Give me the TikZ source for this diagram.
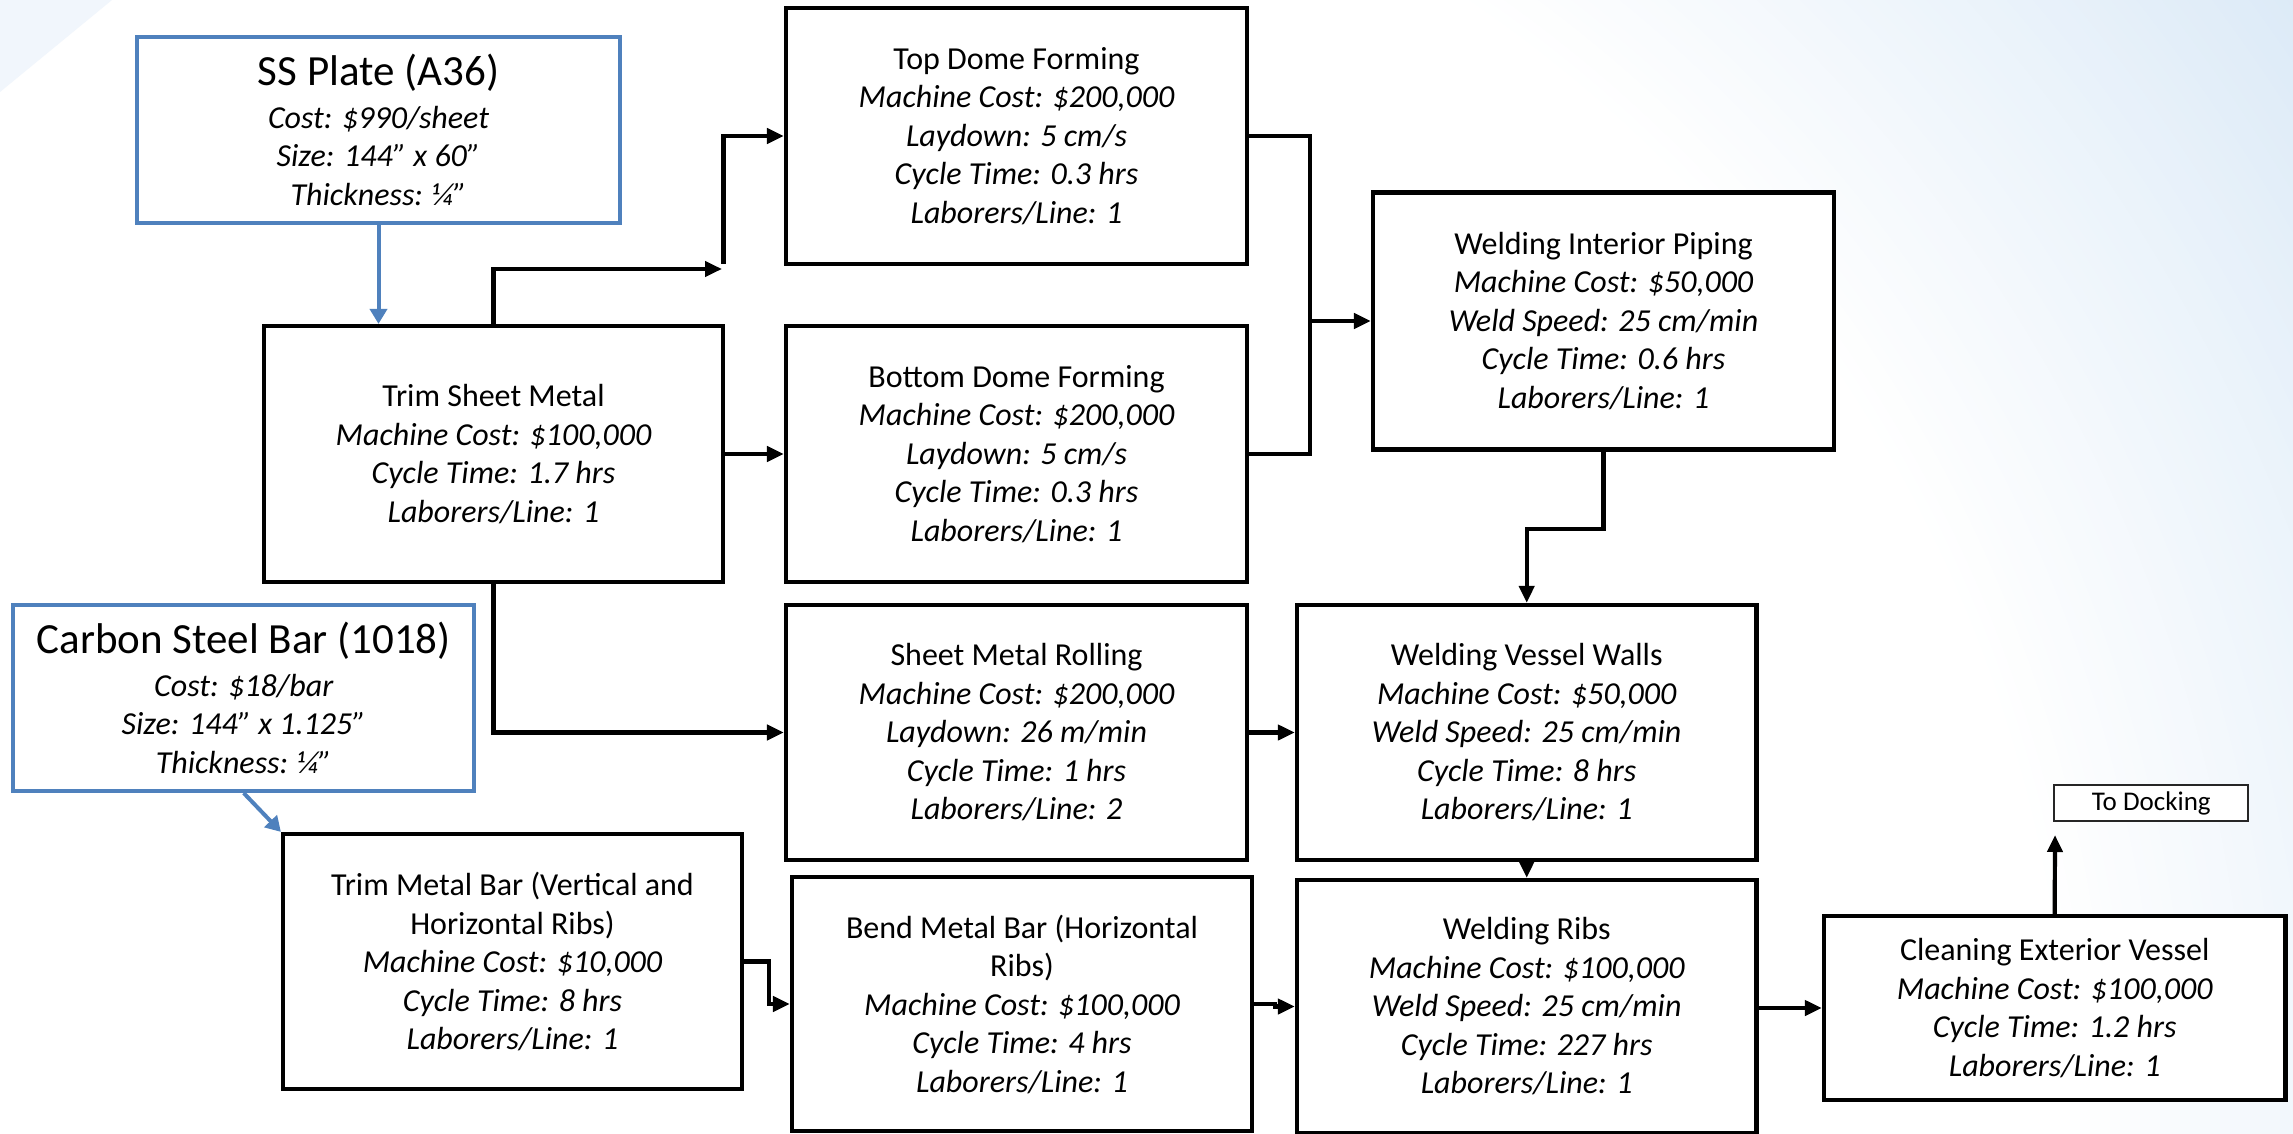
\documentclass[tikz,border=0pt]{standalone}
\usepackage{fontspec}
\setmainfont{Carlito}
\usetikzlibrary{arrows.meta}

\definecolor{srcblue}{HTML}{4F81BD}
\definecolor{bgblue}{HTML}{DCEAF7}
\definecolor{wedge}{HTML}{F1F6FC}

\tikzset{
  body/.style={font=\fontsize{16pt}{19.25pt}\selectfont},
  stepbox/.style={draw=black, line width=2.1pt, fill=white, inner sep=0pt,
    align=center, body, minimum width=230pt, minimum height=128pt},
  srcbox/.style={draw=srcblue, line width=2pt, fill=white, inner sep=0pt,
    align=center, body, minimum width=231pt, minimum height=93pt},
  tagbox/.style={draw=black!85, line width=0.9pt, fill=white, inner sep=0pt,
    font=\fontsize{13.5pt}{15pt}\selectfont, minimum width=97pt, minimum height=18pt},
  conn/.style={line width=2.1pt},
  flow/.style={conn, -{Triangle[length=8.5pt,width=7.5pt]}},
  feed/.style={draw=srcblue, line width=2pt, -{Triangle[length=7.5pt,width=8.5pt]}},
}
\newcommand{\ttl}[1]{{\fontsize{21.5pt}{24pt}\selectfont #1}\\[2pt]}

\begin{document}
\begin{tikzpicture}[x=0.5pt, y=-0.5pt]
  \useasboundingbox (0,0) rectangle (2293,1134);
  % soft backdrop: pale blue towards the upper right corner
  \fill[bgblue] (0,0) rectangle (2293,1134);
  \begin{scope}
    \clip (0,0) rectangle (2293,1134);
    \foreach \i in {0,...,60} {
      \pgfmathsetmacro{\rad}{985-5*\i}
      \pgfmathsetmacro{\mix}{5*\i/3}
      \fill[white!\mix!bgblue] (700,1134) circle[radius=\rad pt];
    }
    \fill[wedge] (0,0) -- (112,0) -- (0,92) -- cycle;
  \end{scope}

  % raw materials
  \node[srcbox, minimum width=241.5pt] (ss) at (378.5,130)
    {\ttl{SS Plate (A36)}\itshape Cost: \$990/sheet\\ \itshape Size: 144” x 60”\\ \itshape Thickness: ¼”};
  \node[srcbox, minimum width=230.75pt] (carbon) at (243.7,698)
    {\ttl{Carbon Steel Bar (1018)}\itshape Cost: \$18/bar\\ \itshape Size: 144” x 1.125”\\ \itshape Thickness: ¼”};

  % process steps
  \node[stepbox, minimum width=229.5pt] (trim) at (493.5,454)
    {Trim Sheet Metal\\ \itshape Machine Cost: \$100,000\\ \itshape Cycle Time: 1.7 hrs\\ \itshape Laborers/Line: 1};
  \node[stepbox, minimum width=230.5pt] (top) at (1016.5,136)
    {Top Dome Forming\\ \itshape Machine Cost: \$200,000\\ \itshape Laydown: 5 cm/s\\ \itshape Cycle Time: 0.3 hrs\\ \itshape Laborers/Line: 1};
  \node[stepbox, minimum width=230.5pt] (bot) at (1016.5,454)
    {Bottom Dome Forming\\ \itshape Machine Cost: \$200,000\\ \itshape Laydown: 5 cm/s\\ \itshape Cycle Time: 0.3 hrs\\ \itshape Laborers/Line: 1};
  \node[stepbox, minimum width=230.5pt, minimum height=128.5pt] (pipe) at (1603.5,321)
    {Welding Interior Piping\\ \itshape Machine Cost: \$50,000\\ \itshape Weld Speed: 25 cm/min\\ \itshape Cycle Time: 0.6 hrs\\ \itshape Laborers/Line: 1};
  \node[stepbox, minimum width=230.5pt, minimum height=127.5pt] (roll) at (1016.5,732.5)
    {Sheet Metal Rolling\\ \itshape Machine Cost: \$200,000\\ \itshape Laydown: 26 m/min\\ \itshape Cycle Time: 1 hrs\\ \itshape Laborers/Line: 2};
  \node[stepbox, minimum width=229.75pt, minimum height=127.5pt] (walls) at (1526.7,732.5)
    {Welding Vessel Walls\\ \itshape Machine Cost: \$50,000\\ \itshape Weld Speed: 25 cm/min\\ \itshape Cycle Time: 8 hrs\\ \itshape Laborers/Line: 1};
  \node[stepbox, minimum width=229.5pt, minimum height=127.5pt] (tmb) at (512.5,961.5)
    {Trim Metal Bar (Vertical and\\ Horizontal Ribs)\\ \itshape Machine Cost: \$10,000\\ \itshape Cycle Time: 8 hrs\\ \itshape Laborers/Line: 1};
  \node[stepbox, minimum width=230pt, minimum height=127pt] (bend) at (1022,1004)
    {Bend Metal Bar (Horizontal\\ Ribs)\\ \itshape Machine Cost: \$100,000\\ \itshape Cycle Time: 4 hrs\\ \itshape Laborers/Line: 1};
  \node[stepbox, minimum width=229.75pt, minimum height=126.5pt] (ribs) at (1526.7,1006.5)
    {Welding Ribs\\ \itshape Machine Cost: \$100,000\\ \itshape Weld Speed: 25 cm/min\\ \itshape Cycle Time: 227 hrs\\ \itshape Laborers/Line: 1};
  \node[stepbox, minimum width=230.75pt, minimum height=92pt] (clean) at (2054.7,1008)
    {Cleaning Exterior Vessel\\ \itshape Machine Cost: \$100,000\\ \itshape Cycle Time: 1.2 hrs\\ \itshape Laborers/Line: 1};
  \node[tagbox] (dock) at (2151.3,803) {To Docking};

  % junction points
  \coordinate (j1) at (722,269);
  \coordinate (j2) at (723.5,264);
  \coordinate (jm) at (1310,321);
  \coordinate (dk) at (2055,835);

  % material feeds
  \draw[feed] (ss.south) -- (trim.north -| ss.south);
  \draw[feed] (carbon.south) -- (tmb.north west);

  % process flow
  \draw[flow] (trim.north) |- (j1);
  \draw[flow] (j2) |- (top.west);
  \draw[flow] (trim.east) -- (bot.west);
  \draw[conn] (top.east) -| (jm) |- (bot.east);
  \draw[flow] (jm) -- (pipe.west);
  \draw[flow] (pipe.south) -- ++(0,77) -| (walls.north);
  \draw[flow] (trim.south) |- (roll.west);
  \draw[flow] (roll.east) -- (walls.west);
  \draw[flow] (tmb.east) -- ++(25,0) |- (bend.west);
  \draw[flow] (bend.east) -- ++(21,0) |- (ribs.west);
  \draw[flow] (walls.south) -- (ribs.north);
  \draw[flow] (ribs.east |- clean.west) -- (clean.west);
  \draw[flow] (clean.north) -- (dk);
\end{tikzpicture}
\end{document}
